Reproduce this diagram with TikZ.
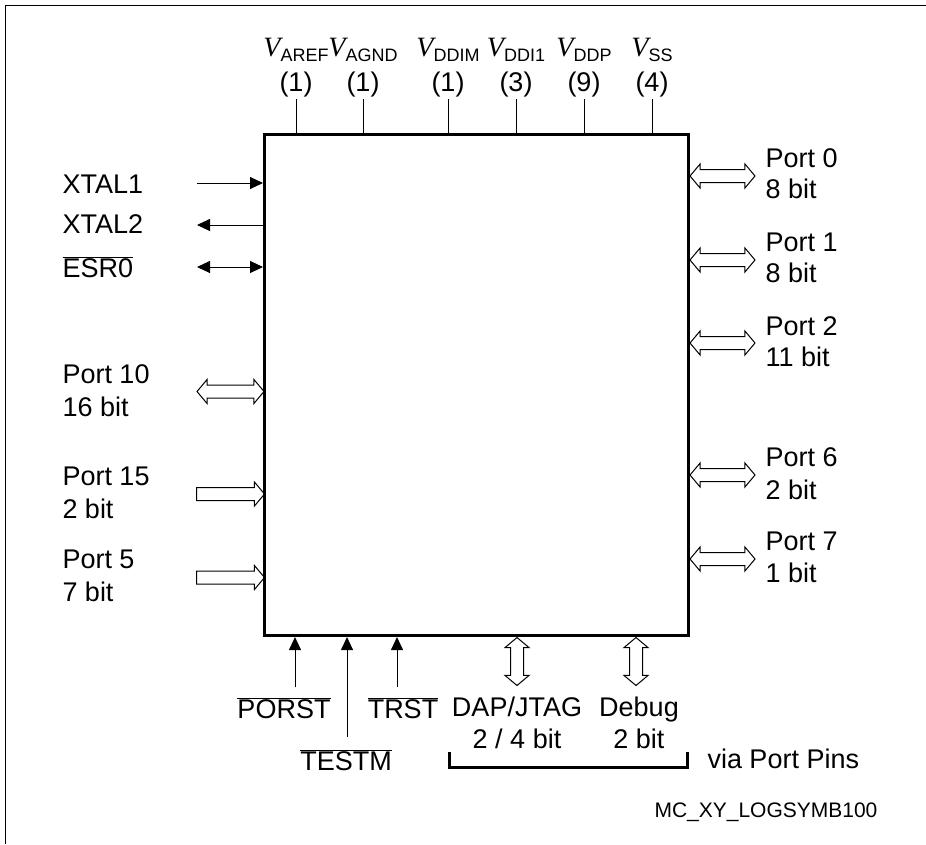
\documentclass[tikz,border=0pt]{standalone}
\usepackage{fontspec}
\setmainfont{Liberation Sans}
\newfontfamily\vfont{Liberation Serif}
\usetikzlibrary{arrows.meta,shapes.arrows}
\newcommand{\pinV}[1]{{\vfont\fontsize{28}{31}\selectfont\itshape V}\raisebox{-5pt}{\fontsize{18}{18}\selectfont #1}}
\newcommand{\lowbar}[1]{$\overline{\mbox{#1}}$}

\begin{document}
\begin{tikzpicture}[x=1pt, y=-1pt, line width=1pt,
    txt/.style = {inner sep=0pt, font=\fontsize{27}{31}\selectfont},
    port/.style = {txt, anchor=west},
    supply/.style = {txt, anchor=south, outer sep=-2pt},
    chipbox/.style = {draw, line width=2.8pt, rectangle, minimum width=424pt, minimum height=501.5pt},
    pin/.style = {-{Triangle[length=13pt, width=12pt]}},
    pinboth/.style = {{Triangle[length=13pt, width=12pt]}-{Triangle[length=13pt, width=12pt]}},
    busboth/.style = {draw, double arrow, inner sep=6pt, double arrow head extend=5.5pt, double arrow tip angle=100, minimum height=65pt},
    busin/.style = {draw, single arrow, anchor=tail, inner sep=6pt, single arrow head extend=5.5pt, single arrow tip angle=100, minimum height=68pt}]
    \useasboundingbox (0,0) rectangle (926,844);
    \draw (926,5) -- (5,5) -- (5,844);
    \node[chipbox] (chip) at (476.4,384.9) {};
    % supply pins
    \node[supply] (aref) at (296,99) {\begin{tabular}{@{}c@{}} \pinV{AREF} \\[4pt] (1) \end{tabular}};
    \node[supply] (agnd) at (363,99) {\begin{tabular}{@{}c@{}} \pinV{AGND} \\[4pt] (1) \end{tabular}};
    \node[supply] (ddim) at (448,99) {\begin{tabular}{@{}c@{}} \pinV{DDIM} \\[4pt] (1) \end{tabular}};
    \node[supply] (ddi) at (516,99) {\begin{tabular}{@{}c@{}} \pinV{DDI1} \\[4pt] (3) \end{tabular}};
    \node[supply] (ddp) at (584,99) {\begin{tabular}{@{}c@{}} \pinV{DDP} \\[4pt] (9) \end{tabular}};
    \node[supply] (vss) at (652,99) {\begin{tabular}{@{}c@{}} \pinV{SS} \\[4pt] (4) \end{tabular}};
    \draw (aref.south) -- (aref.south |- chip.north);
    \draw (agnd.south) -- (agnd.south |- chip.north);
    \draw (ddim.south) -- (ddim.south |- chip.north);
    \draw (ddi.south) -- (ddi.south |- chip.north);
    \draw (ddp.south) -- (ddp.south |- chip.north);
    \draw (vss.south) -- (vss.south |- chip.north);
    % left side
    \node[port] (xtal1) at (62,184) {XTAL1};
    \node[port] (xtal2) at (62,224.5) {XTAL2};
    \node[port] (esr) at (62,267) {\lowbar{ESR0}};
    \coordinate (xtal1end) at (197,183);
    \coordinate (xtal2end) at (197,225);
    \coordinate (esrend) at (197,267);
    \draw[pin] (xtal1end) -- (xtal1end -| chip.west);
    \draw[pin] (xtal2end -| chip.west) -- (xtal2end);
    \draw[pinboth] (esrend) -- (esrend -| chip.west);
    \node[port] (p10) at (62,393.5) {\begin{tabular}{@{}l@{}} Port 10 \\[2pt] 16 bit \end{tabular}};
    \node[port] (p15) at (62,495.5) {\begin{tabular}{@{}l@{}} Port 15 \\[2pt] 2 bit \end{tabular}};
    \node[port] (p5) at (62,579) {\begin{tabular}{@{}l@{}} Port 5 \\[2pt] 7 bit \end{tabular}};
    \node[busboth, minimum height=67pt] (p10bus) at (230.5,391.5) {};
    \node[busin] (p15bus) at (196,494) {};
    \node[busin] (p5bus) at (196,577.5) {};
    % right side
    \node[busboth] (p0bus) at (722.5,176) {};
    \node[busboth] (p1bus) at (722.5,260) {};
    \node[busboth] (p2bus) at (722.5,343) {};
    \node[busboth] (p6bus) at (722.5,475) {};
    \node[busboth] (p7bus) at (722.5,559) {};
    \node[port] (p0) at (765,176.5) {\begin{tabular}{@{}l@{}} Port 0 \\ 8 bit \end{tabular}};
    \node[port] (p1) at (765,260.5) {\begin{tabular}{@{}l@{}} Port 1 \\ 8 bit \end{tabular}};
    \node[port] (p2) at (765,344.5) {\begin{tabular}{@{}l@{}} Port 2 \\ 11 bit \end{tabular}};
    \node[port] (p6) at (765,476.5) {\begin{tabular}{@{}l@{}} Port 6 \\[2pt] 2 bit \end{tabular}};
    \node[port] (p7) at (765,560) {\begin{tabular}{@{}l@{}} Port 7 \\[1pt] 1 bit \end{tabular}};
    % bottom side
    \coordinate (porstend) at (295,687);
    \coordinate (testmend) at (347,737);
    \coordinate (trstend) at (397,687);
    \draw[pin] (porstend) -- (porstend |- chip.south);
    \draw[pin] (testmend) -- (testmend |- chip.south);
    \draw[pin] (trstend) -- (trstend |- chip.south);
    \node[txt] (porst) at (284,708) {\lowbar{PORST}};
    \node[txt] (testm) at (346,760) {\lowbar{TESTM}};
    \node[txt] (trst) at (403,708) {\lowbar{TRST}};
    \node[busboth, shape border rotate=90, minimum height=48pt] (dapbus) at (517,661.5) {};
    \node[busboth, shape border rotate=90, minimum height=48pt] (debugbus) at (636,661.5) {};
    \node[txt] (dap) at (517,726) {\begin{tabular}{@{}c@{}} DAP/JTAG \\[1pt] 2 / 4 bit \end{tabular}};
    \node[txt] (debug) at (639,726) {\begin{tabular}{@{}c@{}} Debug \\[1pt] 2 bit \end{tabular}};
    \coordinate (brleft) at (449,752);
    \coordinate (brright) at (687,752);
    \draw[line width=3pt] (brleft) |- (brright |- 0,767.5) -- (brright);
    \node[port] (via) at (707,759) {via Port Pins};
    \node[port, font=\fontsize{21}{24}\selectfont] (code) at (654,812) {MC\_XY\_LOGSYMB100};
\end{tikzpicture}
\end{document}
